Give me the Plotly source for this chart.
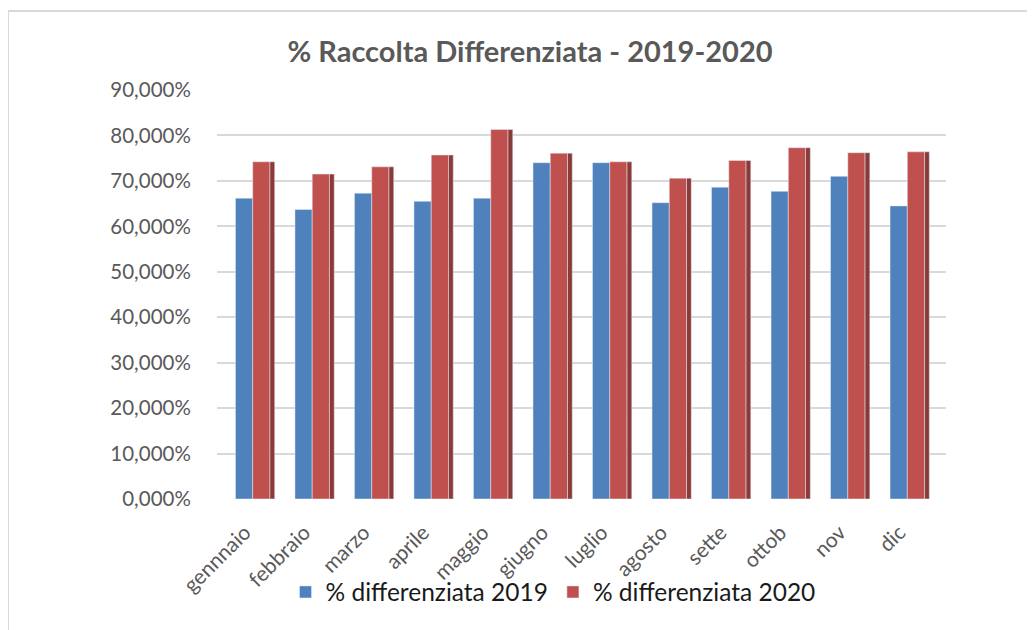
import plotly.graph_objects as go

mesi = ["gennnaio", "febbraio", "marzo", "aprile", "maggio", "giugno",
        "luglio", "agosto", "sette", "ottob", "nov", "dic"]
diff_2019 = [0.662, 0.637, 0.673, 0.655, 0.662, 0.740,
             0.740, 0.652, 0.686, 0.677, 0.710, 0.645]
diff_2020 = [0.742, 0.715, 0.731, 0.757, 0.813, 0.761,
             0.742, 0.706, 0.745, 0.773, 0.762, 0.764]
y_ticks = [0.0, 0.1, 0.2, 0.3, 0.4, 0.5, 0.6, 0.7, 0.8, 0.9]

W, H = 1035, 630
OFF = 8  # margine del body della pagina html
L, R, T, B = 217 - OFF, 89 + OFF, 90 - OFF, 131 + OFF
FONT = "Lato"

# conversione pixel (schermata) -> coordinate paper (per le cornici)
def px(x):
    return (x - OFF - L) / (W - L - R)

def py(y):
    return (H - B - (y - OFF)) / (H - T - B)

fig = go.Figure()
fig.add_trace(go.Bar(x=mesi, y=diff_2019, name="% differenziata 2019",
                     marker_color="#4F81BD", width=0.29, offset=-0.29))
fig.add_trace(go.Bar(x=mesi, y=diff_2020, name="% differenziata 2020",
                     marker_color="#C0504D", width=0.29, offset=0.0))
# lato scuro "3D" della barra rossa
fig.add_trace(go.Bar(x=mesi, y=diff_2020, showlegend=False, hoverinfo="skip",
                     marker_color="#8C3A38", width=0.08, offset=0.29))

line = dict(color="#D9D9D9", width=2)
shapes = [
    dict(type="line", xref="paper", yref="paper", x0=px(8), x1=px(1045), y0=py(11), y1=py(11), line=line),
    dict(type="line", xref="paper", yref="paper", x0=px(8), x1=px(8), y0=py(11), y1=py(640), line=line),
    dict(type="line", xref="paper", yref="paper", x0=px(106), x1=px(947), y0=py(7), y1=py(7), line=line),
    dict(type="line", xref="paper", yref="paper", x0=px(106), x1=px(106), y0=py(7), y1=py(-10), line=line),
    dict(type="line", xref="paper", yref="paper", x0=px(947), x1=px(947), y0=py(7), y1=py(-10), line=line),
]

fig.update_layout(
    width=W, height=H,
    margin=dict(l=L, r=R, t=T, b=B, autoexpand=False),
    barmode="overlay",
    separators=",.",
    plot_bgcolor="white", paper_bgcolor="white",
    font=dict(family=FONT, color="#595959"),
    title=dict(text="<b>% Raccolta Differenziata - 2019-2020</b>",
               x=(530 - OFF) / W, xanchor="center", xref="container",
               y=1 - (52 - OFF) / H, yanchor="middle", yref="container",
               font=dict(family=FONT, size=29, color="#595959")),
    xaxis=dict(range=[-0.6, 11.65], tickangle=-45, showgrid=False,
               ticks="outside", ticklen=12, tickcolor="rgba(0,0,0,0)",
               ticklabelshift=-8,
               tickfont=dict(family=FONT, size=21, color="#595959"),
               showline=False, automargin=False),
    yaxis=dict(range=[0, 0.9], tickvals=y_ticks, tickformat=".3%",
               gridcolor="#D9D9D9", gridwidth=2, zeroline=False,
               ticks="outside", ticklen=21, tickcolor="rgba(0,0,0,0)",
               tickfont=dict(family=FONT, size=20.5, color="#595959"),
               automargin=False),
    legend=dict(orientation="h", xref="container", yref="container",
                x=(553 - OFF) / W, xanchor="center",
                y=1 - (592 - OFF) / H, yanchor="middle",
                bgcolor="rgba(0,0,0,0)",
                font=dict(family=FONT, size=24.5, color="#1a1a1a"),
                itemwidth=30, traceorder="normal"),
    shapes=shapes,
)

fig.write_html("out.html")
